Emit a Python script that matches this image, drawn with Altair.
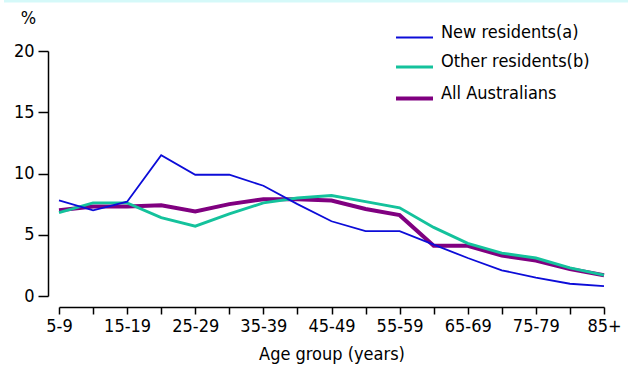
import altair as alt
import pandas as pd

age_groups = ["5-9", "10-14", "15-19", "20-24", "25-29", "30-34", "35-39", "40-44",
              "45-49", "50-54", "55-59", "60-64", "65-69", "70-74", "75-79", "80-84", "85+"]
shown_labels = ["5-9", "15-19", "25-29", "35-39", "45-49", "55-59", "65-69", "75-79", "85+"]

new_residents = [7.8, 7.0, 7.7, 11.5, 9.9, 9.9, 9.0, 7.5, 6.1, 5.3, 5.3, 4.2, 3.1, 2.1, 1.5, 1.0, 0.8]
other_residents = [6.8, 7.6, 7.6, 6.4, 5.7, 6.7, 7.6, 8.0, 8.2, 7.7, 7.2, 5.6, 4.3, 3.5, 3.1, 2.3, 1.7]
all_australians = [7.0, 7.3, 7.3, 7.4, 6.9, 7.5, 7.9, 7.9, 7.8, 7.1, 6.6, 4.1, 4.1, 3.3, 2.9, 2.2, 1.7]

series_names = ["New residents(a)", "Other residents(b)", "All Australians"]
series_colors = ["#0C0CD8", "#14C29C", "#800080"]
series_widths = [1.8, 4, 4]

rows = []
# drawing order: purple first, then green, then blue
for name, vals in [("All Australians", all_australians),
                   ("Other residents(b)", other_residents),
                   ("New residents(a)", new_residents)]:
    for a, v in zip(age_groups, vals):
        rows.append({"age": a, "value": v, "series": name})
df = pd.DataFrame(rows)

FONT = "DejaVu Sans Condensed"
label_list = ",".join("'" + s + "'" for s in shown_labels)

legend_opts = dict(title=None, orient="none", legendX=335, legendY=-33,
                   symbolType="stroke", symbolSize=1369, labelOffset=6,
                   rowPadding=5, labelBaseline="alphabetic", padding=0)

lines = alt.Chart(df).mark_line().encode(
    x=alt.X("age:N", sort=age_groups,
            scale=alt.Scale(type="point", padding=0),
            axis=alt.Axis(title="Age group (years)", labelAngle=0, offset=11,
                          tickSize=7, labelPadding=3, titlePadding=10,
                          labelOverlap=False,
                          labelExpr="indexof([" + label_list + "], datum.value) >= 0 ? datum.label : ''")),
    y=alt.Y("value:Q", scale=alt.Scale(domain=[0, 20], nice=False),
            axis=alt.Axis(title="%", values=[0, 5, 10, 15, 20], offset=11, tickSize=10,
                          labelPadding=4, grid=False, titleAngle=0, titleX=-20, titleY=-33,
                          titleAlign="center", titleBaseline="middle")),
    color=alt.Color("series:N", scale=alt.Scale(domain=series_names, range=series_colors),
                    legend=alt.Legend(**legend_opts)),
    strokeWidth=alt.StrokeWidth("series:N", scale=alt.Scale(domain=series_names, range=series_widths),
                                legend=alt.Legend(**legend_opts)),
)

top_band = alt.Chart(pd.DataFrame({"v": [0]})).mark_rule(color="#D5F9F9", strokeWidth=3).encode(
    x=alt.value(-55), x2=alt.value(569), y=alt.value(-50)
)

chart = alt.layer(top_band, lines).properties(
    width=545, height=245,
    padding={"left": 59, "top": 51, "right": 24, "bottom": 76},
    autosize=alt.AutoSizeParams(type="none"),
).configure_view(stroke=None).configure_axis(
    labelFont=FONT, titleFont=FONT, labelFontSize=18, titleFontSize=18,
    titleFontWeight="normal", labelColor="black", titleColor="black",
    domainColor="black", tickColor="black", domainWidth=1.5, tickWidth=1.5,
).configure_legend(
    labelFont=FONT, labelFontSize=18, labelColor="black"
)

chart.save("out.html", embed_options={"renderer": "svg", "actions": False})
